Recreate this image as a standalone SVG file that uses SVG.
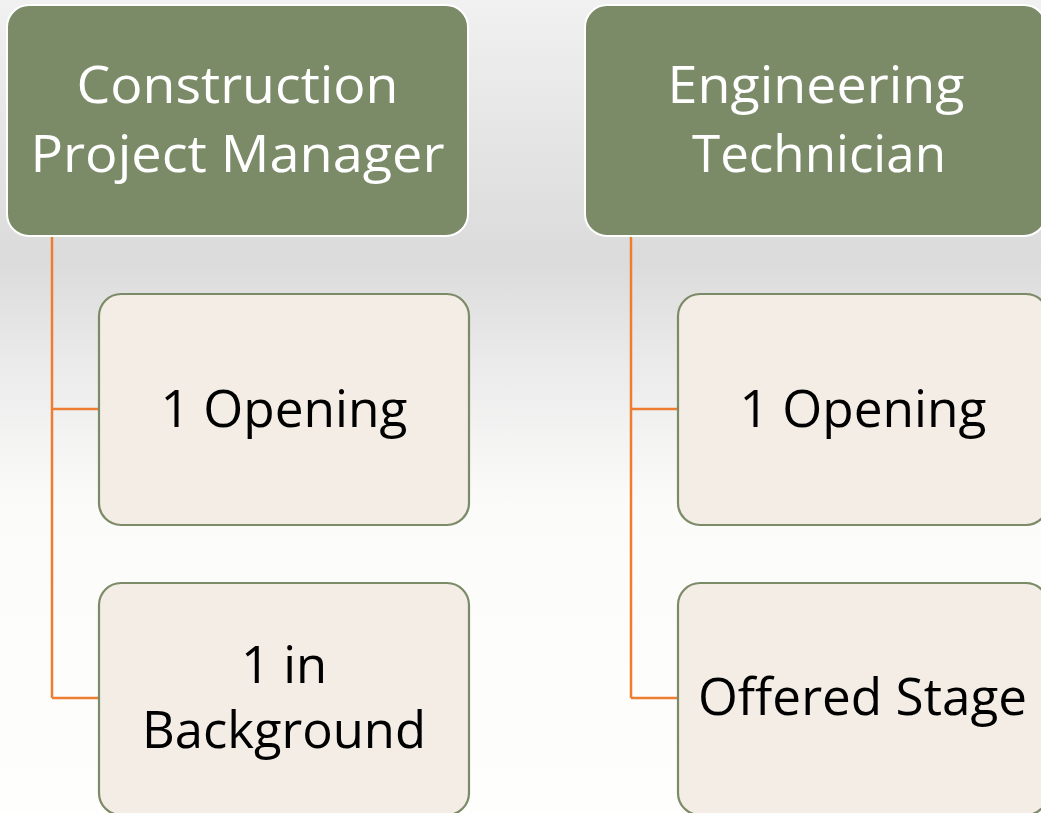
<svg xmlns="http://www.w3.org/2000/svg" width="1041" height="813" viewBox="0 0 1041 813">
  <defs>
    <linearGradient id="bg" x1="0" y1="0" x2="0" y2="1">
      <stop offset="0" stop-color="#f1f1f1"/>
      <stop offset="0.15" stop-color="#e6e6e6"/>
      <stop offset="0.32" stop-color="#dbdbdb"/>
      <stop offset="0.45" stop-color="#ebebeb"/>
      <stop offset="0.62" stop-color="#fbfbfa"/>
      <stop offset="1" stop-color="#fefefc"/>
    </linearGradient>
  </defs>
  <style>
    .head rect { fill: #7b8a67; stroke: #ffffff; stroke-width: 2; }
    .head text { fill: #ffffff; font-family: "Open Sans", "Noto Sans", sans-serif; font-size: 52px; text-anchor: middle; }
    .child rect { fill: #f3ede5; stroke: #7b8a67; stroke-width: 2.2; }
    .child text { fill: #000000; font-family: "Open Sans", "Noto Sans", sans-serif; font-size: 52px; text-anchor: middle; }
    .conn path { fill: none; stroke: #ed7d31; stroke-width: 2.5; }
  </style>
  <rect x="0" y="0" width="1041" height="813" fill="url(#bg)"/>

  <g id="connectors" class="conn">
    <path d="M52,236 V698 M52,409 H99 M52,698 H99"/>
    <path d="M631,236 V698 M631,409 H678 M631,698 H678"/>
  </g>

  <g id="node-cpm" class="head">
    <rect x="7" y="5" width="461" height="231" rx="22"/>
    <text x="237.5" y="103" textLength="322" lengthAdjust="spacingAndGlyphs">Construction</text>
    <text x="237.5" y="172" textLength="414" lengthAdjust="spacingAndGlyphs">Project Manager</text>
  </g>
  <g id="node-cpm-opening" class="child">
    <rect x="99" y="294" width="370" height="231" rx="22"/>
    <text x="284" y="427" textLength="247" lengthAdjust="spacingAndGlyphs">1 Opening</text>
  </g>
  <g id="node-cpm-background" class="child">
    <rect x="99" y="583" width="370" height="232" rx="22"/>
    <text x="284" y="683" textLength="86" lengthAdjust="spacingAndGlyphs">1 in</text>
    <text x="284" y="748" textLength="284" lengthAdjust="spacingAndGlyphs">Background</text>
  </g>

  <g id="node-et" class="head">
    <rect x="585" y="5" width="461" height="231" rx="22"/>
    <text x="816" y="103" textLength="297" lengthAdjust="spacingAndGlyphs">Engineering</text>
    <text x="819" y="172" textLength="254" lengthAdjust="spacingAndGlyphs">Technician</text>
  </g>
  <g id="node-et-opening" class="child">
    <rect x="678" y="294" width="370" height="231" rx="22"/>
    <text x="863" y="427" textLength="247" lengthAdjust="spacingAndGlyphs">1 Opening</text>
  </g>
  <g id="node-et-offered" class="child">
    <rect x="678" y="583" width="370" height="232" rx="22"/>
    <text x="862.5" y="715" textLength="329" lengthAdjust="spacingAndGlyphs">Offered Stage</text>
  </g>
</svg>
